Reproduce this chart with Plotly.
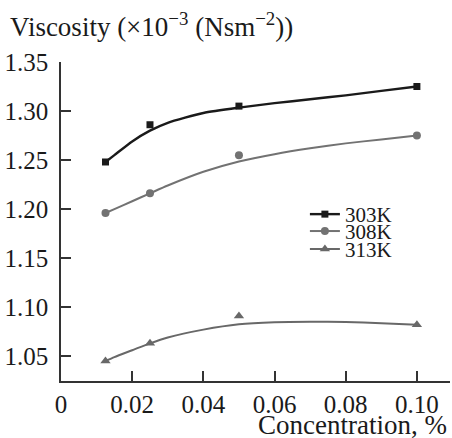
import plotly.graph_objects as go

concentration = [0.0125, 0.025, 0.05, 0.10]
visc_303 = [1.248, 1.286, 1.305, 1.325]
visc_308 = [1.196, 1.216, 1.255, 1.275]
visc_313 = [1.045, 1.063, 1.091, 1.082]

# smooth trend curves
fit_x = [0.0125, 0.015, 0.02, 0.025, 0.03, 0.04, 0.05, 0.06, 0.07, 0.08, 0.09, 0.10]
fit_303 = [1.248, 1.255, 1.269, 1.280, 1.288, 1.298, 1.3035, 1.308, 1.312, 1.316, 1.3205, 1.325]
fit_308 = [1.196, 1.200, 1.208, 1.216, 1.224, 1.238, 1.2485, 1.256, 1.262, 1.267, 1.271, 1.275]
fit_313 = [1.045, 1.049, 1.056, 1.063, 1.069, 1.077, 1.0825, 1.0845, 1.085, 1.0848, 1.0835, 1.082]

series_names = ["303K", "308K", "313K"]
colors = ["#1a1a1a", "#727272", "#686868"]
line_widths = [2.4, 2.0, 2.0]
symbols = ["square", "circle", "triangle-up"]
marker_sizes = [7, 8, 9]
legend_ids = ["legend", "legend2", "legend3"]

xtick_vals = [0, 0.02, 0.04, 0.06, 0.08, 0.10]
xtick_text = ["0", "0.02", "0.04", "0.06", "0.08", "0.10"]
ytick_vals = [1.05, 1.10, 1.15, 1.20, 1.25, 1.30, 1.35]
ytick_text = ["1.05", "1.10", "1.15", "1.20", "1.25", "1.30", "1.35"]

FONT = "Liberation Serif"
INK = "#1a1a1a"

fig = go.Figure()
for name, c, lw, s, ms, lg, vals, fv in zip(series_names, colors, line_widths, symbols, marker_sizes, legend_ids,
                                            [visc_303, visc_308, visc_313],
                                            [fit_303, fit_308, fit_313]):
    fig.add_trace(go.Scatter(x=fit_x, y=fv, mode="lines",
                             line=dict(color=c, width=lw, shape="spline", smoothing=0.6),
                             showlegend=False, hoverinfo="skip"))
    fig.add_trace(go.Scatter(x=concentration, y=vals, mode="markers",
                             marker=dict(symbol=s, size=ms, color=c), showlegend=False))
    fig.add_trace(go.Scatter(x=[None], y=[None], mode="lines+markers", name=name, legend=lg,
                             line=dict(color=c, width=lw), marker=dict(symbol=s, size=ms, color=c)))

# plot area: x 61..450, y 62..381 px
legend_common = dict(x=0.627, xanchor="left", yanchor="middle", font=dict(size=21, family=FONT, color=INK),
                     itemwidth=30, bgcolor="rgba(0,0,0,0)", borderwidth=0)

fig.update_layout(
    width=452, height=438,
    margin=dict(l=61, r=2, t=62, b=57),
    paper_bgcolor="white", plot_bgcolor="white",
    font=dict(family=FONT, size=25, color=INK),
    showlegend=True,
    legend=dict(legend_common, y=0.522),
    legend2=dict(legend_common, y=0.469),
    legend3=dict(legend_common, y=0.413),
    xaxis=dict(range=[0, 0.1093], tickvals=xtick_vals, ticktext=xtick_text, ticks="inside", ticklen=10,
               tickwidth=1.5, tickcolor="#333", showline=True, linecolor="#333", linewidth=1.5,
               showgrid=False, zeroline=False, ticklabelstandoff=0,
               tickfont=dict(size=25, family=FONT, color=INK)),
    yaxis=dict(range=[1.0246, 1.35], tickvals=ytick_vals, ticktext=ytick_text, ticks="inside", ticklen=10,
               tickwidth=1.5, tickcolor="#333", showline=True, linecolor="#333", linewidth=1.5,
               showgrid=False, zeroline=False, ticklabelstandoff=6,
               tickfont=dict(size=25, family=FONT, color=INK)),
    annotations=[
        dict(text="Viscosity (×10<sup>−3</sup> (Nsm<sup>−2</sup>))", xref="paper", yref="paper",
             x=-61/389, y=1.0, xanchor="left", yanchor="bottom", xshift=8, yshift=18, showarrow=False,
             font=dict(size=27, family=FONT, color=INK)),
        dict(text="Concentration, %", xref="paper", yref="paper", x=1.0, y=0, xanchor="right",
             yanchor="top", yshift=-27, xshift=-1, showarrow=False, font=dict(size=27, family=FONT, color=INK)),
    ],
)

fig.write_html("out.html")
